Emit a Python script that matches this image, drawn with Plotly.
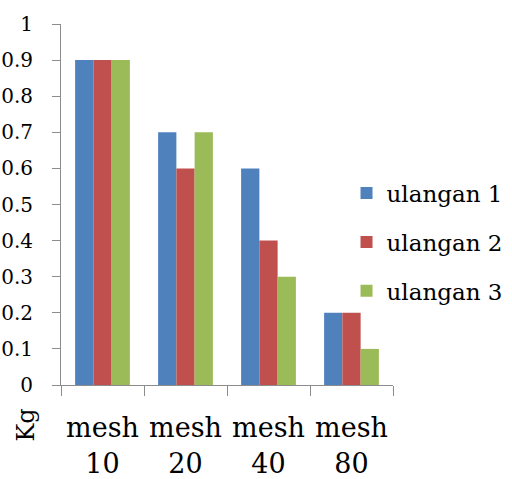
import plotly.graph_objects as go

categories = ["mesh<br>10", "mesh<br>20", "mesh<br>40", "mesh<br>80"]
ulangan_1 = [0.9, 0.7, 0.6, 0.2]
ulangan_2 = [0.9, 0.6, 0.4, 0.2]
ulangan_3 = [0.9, 0.7, 0.3, 0.1]
series_names = ["ulangan 1", "ulangan 2", "ulangan 3"]
y_ticks = [0, 0.1, 0.2, 0.3, 0.4, 0.5, 0.6, 0.7, 0.8, 0.9, 1]
y_tick_text = ["0", "0.1", "0.2", "0.3", "0.4", "0.5", "0.6", "0.7", "0.8", "0.9", "1"]

colors = ["#4F81BD", "#C0504D", "#9BBB59"]
serif = "DejaVu Serif"

fig = go.Figure()
for i, (name, vals) in enumerate(zip(series_names, [ulangan_1, ulangan_2, ulangan_3])):
    fig.add_trace(go.Bar(
        x=categories, y=vals, name=name, legendgroup=name,
        marker=dict(color=colors[i], line=dict(width=0)),
    ))

fig.update_layout(
    width=512, height=479,
    margin=dict(l=61, r=119, t=24, b=94, autoexpand=False),
    paper_bgcolor="white", plot_bgcolor="white",
    barmode="group", bargap=0.34, bargroupgap=0,
    font=dict(family=serif, color="black"),
    showlegend=True,
    legend=dict(
        x=0.86, xanchor="left", y=0.396, yanchor="middle",
        font=dict(family=serif, size=23, color="black"),
        tracegroupgap=16, itemwidth=30,
        bgcolor="rgba(0,0,0,0)",
    ),
    xaxis=dict(
        showline=True, linecolor="#8c8c8c", linewidth=1,
        ticks="outside", ticklen=10, tickcolor="#8c8c8c",
        tickson="boundaries", showgrid=False,
        tickangle=0, ticklabelstandoff=19,
        tickfont=dict(family=serif, size=27, color="black"),
    ),
    yaxis=dict(
        range=[0, 1], tickvals=y_ticks, ticktext=y_tick_text,
        showline=True, linecolor="#8c8c8c", linewidth=1,
        ticks="outside", ticklen=8, tickcolor="#8c8c8c",
        showgrid=False, zeroline=False,
        ticklabelstandoff=15,
        tickfont=dict(family=serif, size=20, color="black"),
    ),
    annotations=[dict(
        text="Kg", textangle=-90, xref="paper", yref="paper",
        x=-0.105, y=-0.112, xanchor="center", yanchor="middle",
        showarrow=False, font=dict(family=serif, size=24, color="black"),
    )],
)

fig.write_html("out.html")
